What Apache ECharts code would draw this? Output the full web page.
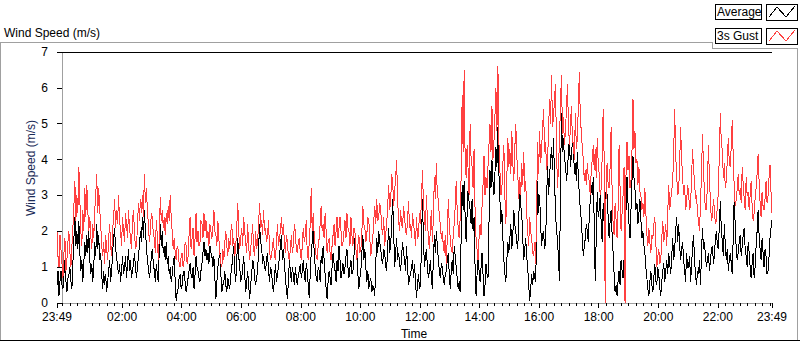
<!DOCTYPE html>
<html>
<head>
<meta charset="utf-8">
<script src="https://cdn.jsdelivr.net/npm/echarts@6/dist/echarts.min.js"></script>
<style>
html,body{margin:0;padding:0;background:#fff;}
#chart{width:800px;height:342px;}
#chart svg path{shape-rendering:crispEdges;}
</style>
</head>
<body>
<div id="chart"></div>
<script>
// Time in minutes from midnight; the record runs 23:49 (previous day) to 23:49
const startMinute = -11;
const endMinute = 1429;

const xTickValues = [-11, 120, 240, 360, 480, 600, 720, 840, 960, 1080, 1200, 1320, 1429];
const xTickLabels = ['23:49', '02:00', '04:00', '06:00', '08:00', '10:00', '12:00', '14:00', '16:00', '18:00', '20:00', '22:00', '23:49'];
const yTickLabels = ['0', '1', '2', '3', '4', '5', '6', '7'];

// 3 s gust (m/s), one value every 2 minutes
const gustValues = [
  2.0,1.3, 1.0,1.9, 1.5,1.1, 0.7,1.4, 1.8,0.9, 1.2,1.7, 2.0,1.4, 1.0,1.6, 2.1,2.7, 3.4,2.3, 3.0,2.5, 3.8,2.9, 2.0,1.6, 2.6,2.0, 3.2,2.4, 3.3,2.6, 2.0,2.4, 1.9,1.5, 2.2,1.8, 2.6,3.0, 3.6,2.5, 3.2,2.6, 2.2,1.6, 1.3,1.7, 1.1,1.9, 1.5,1.2, 1.8,2.2, 1.6,1.3, 2.0,2.4, 2.9,2.1, 2.6,2.2, 3.0,2.3, 2.0,1.6, 2.4,2.0, 1.7,2.5, 2.2,1.8, 2.6,2.1, 1.8,1.5, 2.3,2.6, 2.0,1.5, 1.6,2.1, 2.8,2.3, 2.9,2.5, 3.0,2.4, 3.6,2.8, 3.2,2.6, 2.2,1.7, 2.0,2.5, 2.4,1.9, 1.8,1.4, 2.3,1.9, 1.2,1.8, 2.95,2.3, 2.6,2.1, 2.4,1.9, 2.5,2.2, 2.7,2.3, 3.0,2.4, 2.0,1.5, 1.8,1.4, 1.2,1.6, 1.5,1.1, 1.0,1.3, 1.4,1.0, 1.2,1.7, 1.6,1.1, 1.3,1.9, 2.4,1.5, 1.8,2.1, 1.3,1.8, 2.5,1.7, 2.0,1.6, 1.7,2.3, 2.2,1.8, 2.5,2.0, 2.3,1.8, 2.0,1.6, 2.2,2.0, 1.8,2.1, 2.6,2.0, 1.9,1.6, 2.3,1.8, 1.4,1.1, 1.0,1.5, 1.2,1.7, 2.0,1.6, 1.3,1.8, 1.5,2.0, 2.2,1.6, 1.8,1.3,
  1.6,2.1, 2.8,2.0, 1.5,1.8, 2.1,1.6, 2.4,2.0, 1.7,1.4, 2.2,1.6, 1.2,1.5, 1.8,2.2, 1.5,1.3, 2.0,1.5, 1.7,2.2, 2.8,2.1, 2.3,1.9, 2.6,2.0, 2.1,1.7, 1.9,2.3, 1.5,1.2, 1.3,1.6, 1.8,1.3, 1.2,1.7, 2.2,1.6, 1.8,2.0, 2.4,1.9, 2.2,1.7, 1.4,1.9, 1.7,1.3, 1.2,1.5, 1.9,1.4, 1.6,2.2, 2.0,1.5, 1.4,1.7, 1.8,1.4, 1.2,1.6, 2.1,1.7, 1.9,2.3, 1.4,1.2, 1.7,2.2, 3.2,2.0, 2.5,1.9, 1.6,1.3, 1.2,1.6, 1.8,2.2, 2.7,2.0, 2.2,1.8, 2.5,2.0, 1.4,1.7, 1.8,1.4, 1.2,1.6, 1.9,2.2, 1.6,2.0, 2.4,1.8, 2.1,2.4, 2.0,1.6, 1.7,2.0, 2.3,1.8, 2.5,2.1, 2.0,1.6, 2.4,1.9, 1.6,2.1, 2.0,1.5, 1.2,1.6, 1.9,1.4, 1.5,2.0, 2.7,2.2, 2.1,1.7, 1.9,2.4, 2.3,1.8, 1.3,1.6, 1.8,2.3, 2.7,2.2, 2.9,2.3, 2.4,2.8, 2.6,2.1, 1.9,2.4, 1.6,1.9, 2.2,2.7, 3.3,2.6, 2.8,3.6, 3.4,2.7, 3.1,3.5, 4.0,2.9, 2.3,2.0, 2.6,2.2, 2.1,2.7, 2.4,2.0, 1.9,2.3, 2.85,2.1, 2.2,1.8, 2.5,2.2,
  2.0,1.6, 2.4,1.8, 1.9,2.5, 2.2,2.9, 3.7,2.8, 2.4,2.0, 3.0,2.3, 1.8,1.5, 2.1,2.6, 1.7,2.4, 3.5,2.9, 3.9,3.0, 2.9,2.4, 2.2,1.8, 2.0,1.6, 1.4,1.9, 1.1,1.8, 2.9,2.2, 1.8,1.5, 1.4,1.9, 2.2,2.7, 3.4,2.6, 2.1,1.8, 2.4,3.6, 5.8,4.2, 6.5,4.0, 3.5,4.4, 3.7,3.0, 5.0,4.0, 3.8,3.2, 4.3,2.6, 1.8,1.5, 1.2,1.8, 2.2,1.9, 2.7,3.3, 4.1,3.0, 3.5,3.2, 3.8,4.4, 5.0,4.2, 5.5,4.0, 4.5,5.2, 6.0,4.8, 6.6,4.5, 3.7,3.0, 3.2,3.9, 4.4,3.0, 2.2,3.5, 4.6,3.8, 4.3,3.6, 4.8,3.9, 3.4,4.3, 5.0,4.1, 3.6,2.9, 3.5,3.0, 3.9,3.3, 4.2,3.1, 3.4,2.5, 2.0,1.6, 2.4,2.0, 1.8,1.4, 1.3,1.7, 1.1,2.8, 4.5,3.6, 4.8,3.9, 4.3,4.9, 5.4,4.2, 4.5,3.7, 4.0,4.8, 5.7,5.0, 6.35,4.9, 5.2,5.7, 6.1,4.3, 3.2,3.8, 4.5,5.6, 6.35,4.7, 5.2,4.4, 4.8,5.4, 6.1,5.0, 4.4,4.9, 5.5,4.6, 4.4,4.0, 5.3,4.3, 4.6,5.5, 6.45,5.1, 4.8,4.3, 4.0,3.4, 3.7,3.3, 3.9,3.5, 3.4,3.0, 3.7,4.0,
  4.4,3.7, 4.3,3.5, 4.6,3.9, 3.6,3.0, 3.2,4.1, 5.4,4.0, 0.0,3.4, 3.9,3.3, 3.2,3.8, 4.9,3.1, 2.2,1.9, 2.8,2.3, 1.8,2.6, 4.4,3.2, 2.0,2.5, 3.0,3.8, 0.0,3.6, 4.5,3.7, 4.1,3.2, 3.4,4.2, 5.7,4.3, 4.8,3.9, 4.0,3.3, 3.8,3.1, 3.0,2.6, 2.8,2.4, 3.2,2.5, 1.9,1.6, 2.1,1.7, 1.4,1.9, 1.8,2.2, 2.4,1.7, 1.0,1.3, 1.5,1.1, 1.2,1.8, 2.3,1.7, 1.9,2.2, 1.6,2.5, 3.3,2.6, 2.9,3.1, 3.4,4.2, 5.4,4.1, 3.6,3.0, 3.1,3.9, 4.9,4.0, 3.5,3.0, 3.3,2.6, 2.8,3.3, 3.1,2.6, 2.7,3.5, 4.3,3.7, 3.4,2.9, 3.0,2.5, 2.3,2.0, 2.8,3.6, 4.7,3.8, 3.0,2.6, 2.6,3.4, 4.4,3.5, 2.8,2.3, 2.4,2.9, 2.6,2.2, 2.3,2.7, 3.1,4.2, 5.3,4.4, 4.3,3.5, 3.9,3.2, 3.4,4.0, 4.6,3.9, 3.8,4.4, 5.1,4.0, 3.2,2.7, 2.9,3.2, 3.6,3.0, 3.2,2.8, 3.8,3.3, 2.9,2.6, 3.5,3.0, 3.1,2.6, 3.0,3.4, 2.7,2.3, 2.5,2.9, 3.2,3.6, 4.15,3.4, 2.8,2.4, 3.1,2.7, 2.6,2.9, 3.4,2.8, 3.0,3.5, 3.85,3.1, 2.5
];

// Average wind speed (m/s), one value every 2 minutes
const avgValues = [
  0.5,0.9, 0.2,0.6, 0.9,0.5, 0.4,0.8, 1.2,0.6, 0.3,0.7, 0.8,1.0, 0.6,0.4, 1.1,1.8, 2.4,1.6, 2.0,1.5, 2.3,1.4, 0.9,1.2, 0.6,1.1, 1.7,1.3, 1.9,1.4, 2.0,1.2, 0.8,1.1, 0.6,1.0, 1.7,1.3, 2.2,1.5, 1.9,1.2, 1.4,0.8, 0.4,0.9, 0.5,0.8, 0.3,0.6, 0.9,1.2, 0.6,0.9, 1.4,1.8, 2.1,1.5, 1.3,1.0, 0.8,1.1, 0.6,0.9, 1.3,0.8, 1.0,1.3, 0.7,1.1, 1.5,0.9, 1.2,0.7, 0.9,1.1, 1.4,1.0, 0.7,1.0, 1.3,1.6, 2.0,1.7, 2.4,1.8, 2.6,2.0, 1.6,1.2, 1.0,0.7, 0.9,1.3, 1.5,1.1, 0.9,0.6, 1.1,0.8, 0.6,1.5, 2.2,1.6, 2.0,1.4, 1.6,1.2, 1.7,1.1, 1.3,0.8, 1.0,0.6, 0.8,1.1, 1.3,0.6, 0.05,0.3, 0.4,0.7, 0.8,0.4, 0.5,0.8, 0.9,0.6, 0.3,0.5, 0.7,0.9, 1.1,0.8, 0.7,1.0, 0.4,0.8, 1.3,1.0, 0.9,0.7, 0.6,0.9, 1.1,1.4, 1.7,1.3, 1.5,1.2, 1.4,1.1, 1.6,1.4, 1.3,1.0, 1.3,0.7, 0.1,0.6, 1.0,1.2, 1.5,0.8, 0.3,0.5, 0.6,0.9, 0.5,0.3, 0.7,0.5, 0.4,0.8, 1.0,1.3, 1.6,0.9,
  0.6,1.2, 1.8,1.3, 1.0,0.6, 0.7,1.0, 1.3,0.8, 0.3,0.6, 0.9,0.5, 0.1,0.5, 0.8,1.2, 1.1,0.7, 0.5,0.7, 0.9,1.5, 2.2,1.7, 1.6,1.1, 1.3,1.0, 0.9,1.2, 1.4,0.9, 0.6,1.0, 0.9,0.5, 0.3,0.7, 1.1,0.6, 0.8,1.0, 1.3,1.6, 1.9,1.2, 1.5,1.1, 0.7,0.4, 0.1,0.6, 1.2,0.9, 0.6,1.0, 0.8,0.5, 1.0,0.7, 0.5,0.8, 0.9,1.1, 0.7,0.9, 1.2,0.8, 0.6,1.1, 0.9,0.5, 0.15,0.8, 1.4,1.7, 2.1,1.4, 1.0,0.7, 0.6,1.0, 0.9,0.6, 1.3,1.1, 1.6,1.2, 0.8,0.4, 0.1,0.6, 0.9,0.7, 0.5,1.0, 1.4,1.1, 0.9,0.6, 1.2,0.9, 1.6,1.2, 0.7,0.9, 1.1,0.8, 1.0,1.3, 1.5,1.0, 0.7,1.0, 1.2,0.8, 0.9,1.3, 1.8,1.5, 1.3,0.8, 0.4,0.7, 0.9,1.4, 1.9,1.2, 1.5,1.0, 0.6,0.9, 0.4,0.6, 0.7,0.3, 0.5,0.4, 0.2,1.1, 1.8,1.4, 2.0,1.7, 1.5,1.2, 1.1,1.5, 1.4,1.0, 0.9,1.6, 2.1,1.4, 1.6,2.2, 2.9,2.0, 1.0,1.4, 1.8,1.2, 1.4,1.1, 0.9,1.3, 1.7,1.4, 1.2,0.9, 1.6,1.0, 0.5,0.7, 0.8,1.0, 1.2,0.7,
  1.1,0.6, 0.15,0.5, 0.8,0.4, 0.5,1.6, 2.9,1.8, 1.0,1.3, 1.5,1.0, 0.7,0.9, 1.2,0.7, 0.4,1.2, 1.9,1.4, 2.0,1.6, 1.2,0.9, 0.7,1.1, 1.0,0.7, 0.5,0.8, 0.9,1.2, 1.4,0.8, 0.4,0.9, 1.2,0.8, 1.6,1.3, 1.0,0.7, 0.4,0.6, 0.3,1.9, 3.3,2.6, 3.4,2.4, 1.7,2.5, 3.2,2.8, 2.6,2.2, 2.9,2.0, 2.4,1.0, 0.2,0.8, 1.3,0.9, 0.6,1.0, 1.4,0.8, 0.2,0.5, 1.1,0.8, 0.7,2.2, 3.7,3.2, 4.0,3.4, 3.0,3.6, 4.35,3.8, 4.9,3.6, 2.9,2.2, 2.6,1.8, 1.2,0.8, 0.6,1.2, 1.7,1.4, 1.8,2.2, 1.5,1.9, 2.6,2.2, 2.0,1.7, 1.5,2.4, 3.1,2.7, 2.5,1.8, 1.2,1.5, 1.8,1.3, 1.0,0.5, 0.05,0.4, 0.8,0.5, 0.9,0.7, 0.6,1.9, 3.4,2.5, 3.0,2.2, 1.6,1.9, 2.0,1.5, 1.7,2.8, 3.9,3.0, 3.5,4.0, 4.35,3.7, 4.6,3.5, 2.5,2.0, 1.8,1.2, 0.6,3.2, 5.3,4.2, 4.6,4.0, 3.9,3.4, 3.7,4.2, 4.6,3.8, 4.1,4.5, 4.4,3.6, 3.9,3.4, 4.2,3.5, 3.0,2.6, 2.3,1.8, 1.3,1.6, 1.8,2.2, 2.0,1.7, 2.4,2.9, 3.3,3.0,
  3.5,2.2, 0.6,1.8, 3.1,2.4, 2.6,3.0, 2.2,1.7, 2.8,2.2, 2.6,3.2, 3.0,2.4, 1.8,2.3, 2.6,1.9, 1.4,0.8, 0.3,0.5, 0.2,0.6, 0.9,0.5, 1.2,0.9, 0.7,1.2, 1.7,2.6, 3.5,2.8, 2.2,1.8, 2.6,3.4, 4.1,3.5, 3.2,2.6, 2.8,2.2, 2.5,2.9, 2.3,1.8, 2.0,1.6, 1.4,1.0, 0.7,0.4, 0.2,0.6, 0.9,0.5, 0.3,0.7, 1.1,0.6, 0.5,1.0, 0.8,0.4, 0.2,0.6, 0.9,1.1, 0.6,0.9, 1.2,0.8, 1.4,1.1, 0.8,1.3, 1.8,1.2, 1.5,2.0, 2.4,1.7, 2.2,1.6, 1.2,1.5, 1.7,1.2, 0.9,0.6, 1.4,1.0, 1.0,1.3, 0.6,1.0, 1.6,1.9, 1.2,0.8, 0.5,0.9, 0.8,1.2, 0.5,1.4, 2.1,1.5, 1.7,1.3, 1.0,1.2, 1.4,0.9, 1.2,1.5, 1.6,1.1, 1.3,1.8, 2.0,1.6, 1.5,2.2, 2.85,2.0, 1.7,1.3, 2.2,1.6, 1.2,1.5, 0.9,1.2, 1.4,1.1, 0.8,1.9, 3.0,2.1, 1.5,1.2, 1.4,1.7, 1.9,1.3, 1.6,1.9, 2.1,1.5, 1.3,1.0, 1.7,1.4, 1.0,0.7, 1.1,1.4, 0.7,1.0, 1.6,2.0, 2.6,1.9, 1.5,1.2, 1.8,1.4, 1.0,1.5, 1.3,0.8, 0.9,1.3, 1.8,2.1, 2.3
];

const FONT = "'Liberation Sans', Arial, sans-serif";
const minorTicks = [];
for (let m = 0; m <= 1425; m += 15) minorTicks.push(m);

// samples are evenly spaced over the recorded day
function toSeries(vals) {
  const step = (endMinute - startMinute) / (vals.length - 1);
  return vals.map((v, i) => [startMinute + i * step, v]);
}

const chart = echarts.init(document.getElementById('chart'), null, { renderer: 'svg' });

const hiddenAxis = {
  type: 'value', min: startMinute, max: endMinute,
  axisLabel: { show: false }, splitLine: { show: false }
};

chart.setOption({
  animation: false,
  backgroundColor: '#ffffff',
  grid: { left: 57, right: 28, top: 52, bottom: 39, containLabel: false, outerBoundsMode: 'none' },
  xAxis: [
    {
      type: 'value', min: startMinute, max: endMinute, position: 'bottom',
      axisLine: { show: true, lineStyle: { color: '#a0a0a0', width: 1 } },
      axisTick: { show: true, customValues: xTickValues, length: 5, lineStyle: { color: '#000' } },
      axisLabel: {
        show: true, customValues: xTickValues, margin: 8,
        fontFamily: FONT, fontSize: 12, color: '#000',
        formatter: function (v) {
          const k = xTickValues.indexOf(Math.round(v));
          return k >= 0 ? xTickLabels[k] : '';
        }
      },
      splitLine: { show: false }
    },
    Object.assign({}, hiddenAxis, {
      position: 'bottom',
      axisLine: { show: false },
      axisTick: { show: true, customValues: minorTicks, length: 3, lineStyle: { color: '#000' } }
    }),
    Object.assign({}, hiddenAxis, {
      position: 'top',
      axisLine: { show: true, lineStyle: { color: '#000', width: 1 } },
      axisTick: { show: false }
    })
  ],
  yAxis: [
    {
      type: 'value', min: 0, max: 7, interval: 1, position: 'left',
      axisLine: { show: true, lineStyle: { color: '#000', width: 1 } },
      axisTick: { show: true, length: 5, lineStyle: { color: '#000' } },
      axisLabel: {
        margin: 9, fontFamily: FONT, fontSize: 12, color: '#000',
        formatter: function (v) { return yTickLabels[Math.round(v)]; }
      },
      splitLine: { show: false }
    },
    {
      type: 'value', min: 0, max: 7, position: 'right',
      axisLine: { show: true, lineStyle: { color: '#a0a0a0', width: 1 } },
      axisTick: { show: false }, axisLabel: { show: false }, splitLine: { show: false }
    }
  ],
  series: [
    {
      name: 'Average', type: 'line', xAxisIndex: 0, yAxisIndex: 0,
      data: toSeries(avgValues), showSymbol: false, symbol: 'none',
      lineStyle: { color: '#000000', width: 1 }, z: 2
    },
    {
      name: '3s Gust', type: 'line', xAxisIndex: 0, yAxisIndex: 0,
      data: toSeries(gustValues), showSymbol: false, symbol: 'none',
      lineStyle: { color: '#ff4040', width: 1 }, z: 3
    }
  ],
  graphic: [
    // outer panel frame
    { type: 'polyline', silent: true, shape: { points: [[0.5, 341], [0.5, 42.5], [712.5, 42.5], [712.5, 48.5], [797.5, 48.5], [797.5, 341]] },
      style: { stroke: '#a0a0a0', lineWidth: 1, fill: null } },
    { type: 'line', silent: true, shape: { x1: 0, y1: 340.5, x2: 800, y2: 340.5 }, style: { stroke: '#000', lineWidth: 1 } },
    // panel title
    { type: 'text', left: 4, top: 27, style: { text: 'Wind Speed (m/s)', font: '12px ' + FONT, fill: '#000' } },
    // axis names
    { type: 'text', x: 31, y: 168, rotation: Math.PI / 2,
      style: { text: 'Wind Speed (m/s)', font: '12px ' + FONT, fill: '#1b2b57', align: 'center', verticalAlign: 'middle' } },
    { type: 'text', x: 414, y: 334,
      style: { text: 'Time', font: '12px ' + FONT, fill: '#000', align: 'center', verticalAlign: 'middle' } },
    // legend: Average
    { type: 'rect', shape: { x: 715.5, y: 4.5, width: 46, height: 15 }, style: { fill: '#fff', stroke: '#000', lineWidth: 1 } },
    { type: 'text', x: 717, y: 12, style: { text: 'Average', font: '12px ' + FONT, fill: '#000', verticalAlign: 'middle' } },
    { type: 'rect', shape: { x: 766.5, y: 4.5, width: 31, height: 16 }, style: { fill: '#fff', stroke: '#000', lineWidth: 1 } },
    { type: 'polyline', shape: { points: [[769, 17], [777, 7], [786, 17], [795, 6]] }, style: { stroke: '#000', lineWidth: 1, fill: null } },
    // legend: 3s Gust
    { type: 'rect', shape: { x: 715.5, y: 28.5, width: 46, height: 15 }, style: { fill: '#fff', stroke: '#000', lineWidth: 1 } },
    { type: 'text', x: 717, y: 36, style: { text: '3s Gust', font: '12px ' + FONT, fill: '#000', verticalAlign: 'middle' } },
    { type: 'rect', shape: { x: 766.5, y: 28.5, width: 31, height: 16 }, style: { fill: '#fff', stroke: '#000', lineWidth: 1 } },
    { type: 'polyline', shape: { points: [[769, 41], [777, 31], [786, 41], [795, 30]] }, style: { stroke: '#ff4040', lineWidth: 1, fill: null } }
  ]
});
</script>
</body>
</html>
